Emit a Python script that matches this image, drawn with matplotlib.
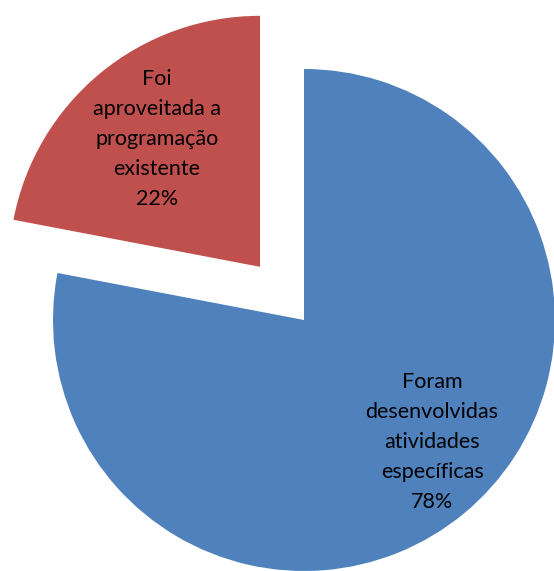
import matplotlib
matplotlib.use("Agg")
import matplotlib.pyplot as plt

labels = ["Foram\ndesenvolvidas\natividades\nespecíficas", "Foi\naproveitada a\nprogramação\nexistente"]
values = [78, 22]
colors = ["#4F81BD", "#C0504D"]
explode = [0, 0.275]

W, H = 554, 571
fig = plt.figure(figsize=(W / 100, H / 100), dpi=100)
ax = fig.add_axes([0, 0, 1, 1])
ax.axis("off")

wedges, _ = ax.pie(values, colors=colors, explode=explode, startangle=90,
                   counterclock=False, radius=1.0,
                   wedgeprops=dict(linewidth=0))

scale = 251.0
cx, cy = 304.0, 320.0
ax.set_xlim(-cx / scale, (W - cx) / scale)
ax.set_ylim(-(H - cy) / scale, cy / scale)
ax.set_aspect("auto")

def px(x, y):
    return (x - cx) / scale, (cy - y) / scale

label_pos = [(432, 442), (157, 139)]
for lab, v, (x, y) in zip(labels, values, label_pos):
    dx, dy = px(x, y)
    ax.text(dx, dy, f"{lab}\n{v}%", ha="center", va="center", fontsize=15.5,
            family="Lato", linespacing=1.62, color="black")

fig.savefig("out.png", dpi=100)
